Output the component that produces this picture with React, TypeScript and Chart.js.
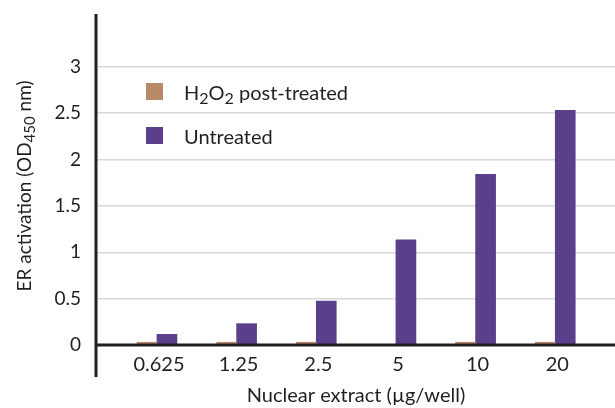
import React, { useEffect, useRef } from "react";
import { Chart, registerables } from "chart.js";

Chart.register(...registerables);

const categories = ["0.625", "1.25", "2.5", "5", "10", "20"];
const h2o2Values = [0.03, 0.03, 0.03, 0, 0.03, 0.03];
const untreatedValues = [0.115, 0.23, 0.475, 1.135, 1.84, 2.53];
const yTickValues = [0, 0.5, 1, 1.5, 2, 2.5, 3];
const seriesNames = ["H2O2 post-treated", "Untreated"];

const FONT = "Lato";
const TEXT = "#231f20";
const BROWN = "#b98a6a";
const PURPLE = "#5a3f8a";

function measureRich(ctx: CanvasRenderingContext2D, parts: { t: string; sub?: boolean }[], size: number) {
  let w = 0;
  for (const p of parts) {
    const s = p.sub ? Math.round(size * 0.78) : size;
    ctx.font = `${s}px ${FONT}`;
    w += ctx.measureText(p.t).width;
  }
  return w;
}

function drawRich(ctx: CanvasRenderingContext2D, parts: { t: string; sub?: boolean }[], x: number, y: number, size: number) {
  let cx = x;
  for (const p of parts) {
    const s = p.sub ? Math.round(size * 0.78) : size;
    ctx.font = `${s}px ${FONT}`;
    ctx.fillText(p.t, cx, p.sub ? y + size * 0.2 : y);
    cx += ctx.measureText(p.t).width;
  }
}

const overlay = {
  id: "overlay",
  afterDatasetsDraw(chart: any) {
    const ctx: CanvasRenderingContext2D = chart.ctx;
    const { left, right, top } = chart.chartArea;
    const y0 = chart.scales.y.getPixelForValue(0);
    ctx.save();
    ctx.strokeStyle = TEXT;
    ctx.lineWidth = 3;
    ctx.beginPath();
    ctx.moveTo(left, top);
    ctx.lineTo(left, 377);
    ctx.stroke();
    ctx.beginPath();
    ctx.moveTo(left, y0);
    ctx.lineTo(right, y0);
    ctx.stroke();

    // legend
    ctx.fillStyle = BROWN;
    ctx.fillRect(146, 83, 17, 17);
    ctx.fillStyle = PURPLE;
    ctx.fillRect(146, 127, 17, 17);
    ctx.fillStyle = TEXT;
    ctx.textBaseline = "alphabetic";
    ctx.textAlign = "left";
    drawRich(
      ctx,
      [{ t: "H" }, { t: "2", sub: true }, { t: "O" }, { t: "2", sub: true }, { t: " post-treated" }],
      184,
      100,
      20
    );
    drawRich(ctx, [{ t: seriesNames[1] }], 184, 144, 20);

    // x title
    ctx.font = `20px ${FONT}`;
    ctx.textAlign = "center";
    ctx.fillText("Nuclear extract (µg/well)", 356, 402);

    // y title
    ctx.translate(31, 186);
    ctx.rotate(-Math.PI / 2);
    ctx.textAlign = "left";
    const parts = [{ t: "ER activation (OD" }, { t: "450", sub: true }, { t: " nm)" }];
    const w = measureRich(ctx, parts, 19);
    drawRich(ctx, parts, -w / 2, 0, 19);
    ctx.restore();
  },
};

export default function App() {
  const ref = useRef<HTMLCanvasElement | null>(null);
  useEffect(() => {
    document.body.style.margin = "0";
    const canvas = ref.current!;
    const chart = new Chart(canvas, {
      type: "bar",
      data: {
        datasets: [
          {
            label: seriesNames[0],
            data: h2o2Values.map((v, i) => ({ x: i, y: v })),
            backgroundColor: BROWN,
            barThickness: 20,
          },
          {
            label: seriesNames[1],
            data: untreatedValues.map((v, i) => ({ x: i, y: v })),
            backgroundColor: PURPLE,
            barThickness: 20,
          },
        ],
      },
      plugins: [overlay],
      options: {
        responsive: false,
        animation: false,
        layout: { padding: { top: 14, left: 0, right: 0, bottom: 0 } },
        plugins: { legend: { display: false }, tooltip: { enabled: false } },
        scales: {
          x: {
            type: "linear",
            offset: false,
            min: -0.765,
            max: 5.75,
            grid: { display: false, drawTicks: false },
            border: { display: false },
            afterFit: (s: any) => {
              s.height = 63;
              s.paddingLeft = 0;
              s.paddingRight = 0;
              s.paddingTop = 0;
              s.paddingBottom = 0;
            },
            afterBuildTicks: (axis: any) => {
              axis.ticks = categories.map((_, i) => ({ value: i }));
            },
            ticks: {
              autoSkip: false,
              maxRotation: 0,
              padding: 8,
              labelOffset: 2,
              color: TEXT,
              font: { family: FONT, size: 20 },
              callback: (v: any) => categories[v as number] ?? "",
            },
          },
          y: {
            min: 0,
            max: 3.57,
            grid: { color: "#d8d8d8", lineWidth: 1.5, drawTicks: false },
            border: { display: false },
            afterFit: (s: any) => {
              s.width = 96;
              s.paddingLeft = 0;
              s.paddingRight = 0;
              s.paddingTop = 0;
              s.paddingBottom = 0;
            },
            afterBuildTicks: (axis: any) => {
              axis.ticks = yTickValues.map((v) => ({ value: v }));
            },
            ticks: {
              padding: 15,
              color: TEXT,
              font: { family: FONT, size: 19 },
              callback: (v: any) => String(v),
            },
          },
        },
      },
    });
    return () => chart.destroy();
  }, []);
  return (
    <div style={{ width: 615, height: 408 }}>
      <canvas ref={ref} width={615} height={408} style={{ display: "block" }} />
    </div>
  );
}
